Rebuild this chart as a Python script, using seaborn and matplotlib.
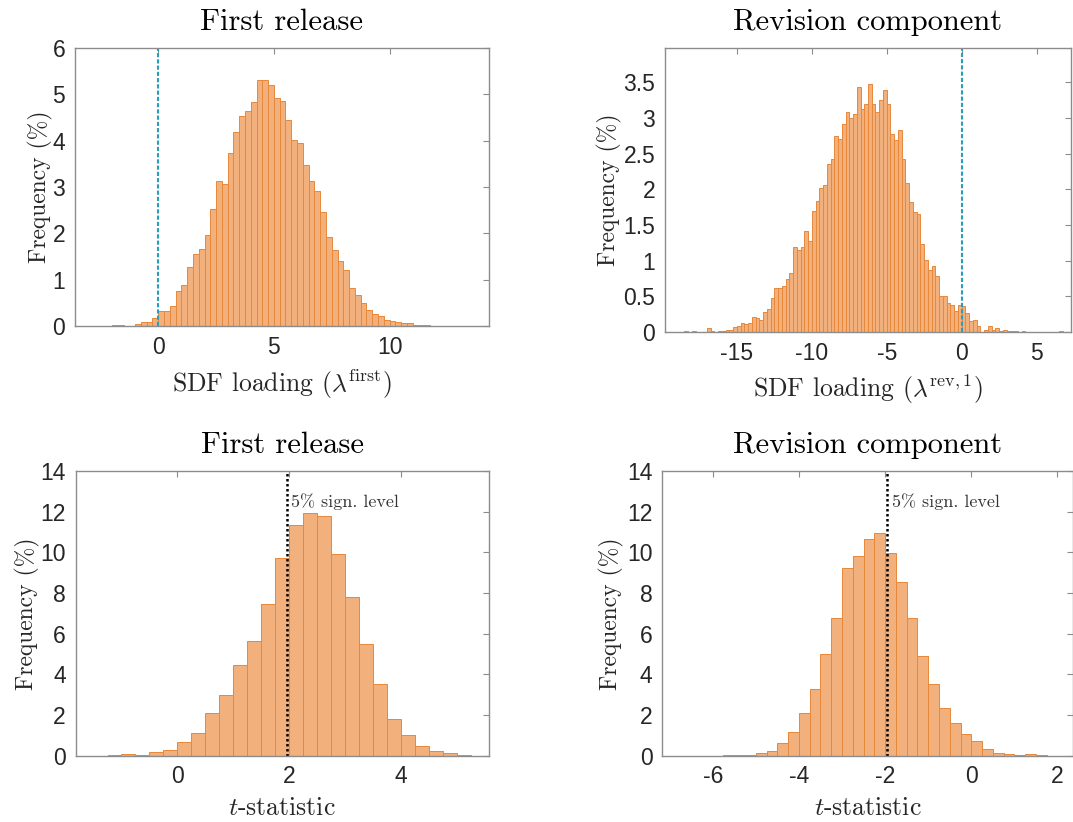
import numpy as np
import pandas as pd
import matplotlib
matplotlib.use("Agg")
import matplotlib.pyplot as plt
import seaborn as sns

# ---------------- data (bin width 0.25) ----------------
BIN_W = 0.25

# Panel 1: first release, SDF loading
tl_start = -2.5
tl_heights = [0.01, 0.0, 0.02, 0.02, 0.005, 0.005, 0.04, 0.09, 0.09, 0.17,
              0.32, 0.32, 0.43, 0.75, 0.89, 1.28, 1.55, 1.66, 1.97, 2.52,
              3.12, 3.07, 3.73, 4.18, 4.54, 4.65, 4.83, 5.31, 5.30, 5.21,
              4.93, 4.86, 4.45, 4.02, 3.95, 3.47, 3.13, 2.92, 2.46, 1.93,
              1.64, 1.40, 1.20, 0.81, 0.66, 0.50, 0.35, 0.26, 0.22, 0.13,
              0.11, 0.08, 0.07, 0.06, 0.02, 0.02, 0.015, 0.01, 0.005, 0.0,
              0.005, 0.0, 0.005, 0.0]

# Panel 2: revision component, SDF loading
tr_start = -18.5
tr_heights = [0.01, 0.0, 0.01, 0.0, 0.0, 0.0,
              0.056, 0.02, 0.0, 0.02, 0.02, 0.03, 0.03, 0.065, 0.09, 0.12,
              0.11, 0.12, 0.21, 0.20, 0.17, 0.28, 0.32, 0.47, 0.61, 0.61,
              0.65, 0.74, 0.82, 1.19, 1.15, 1.19, 1.41, 1.28, 1.69, 1.84,
              2.02, 2.06, 2.36, 2.43, 2.74, 2.70, 2.91, 3.09, 3.00, 3.06,
              3.43, 3.13, 3.19, 3.48, 3.20, 3.08, 3.25, 3.39, 3.20, 2.77,
              2.69, 2.83, 2.42, 2.09, 1.82, 1.68, 1.65, 1.23, 1.01, 0.87,
              0.92, 0.79, 0.50, 0.50, 0.41, 0.38, 0.29, 0.38, 0.37, 0.27,
              0.15, 0.17, 0.09, 0.0, 0.03, 0.09, 0.03, 0.06, 0.02, 0.03,
              0.015, 0.015, 0.02, 0.0, 0.02, 0.005, 0.005, 0.0, 0.005, 0.005,
              0.0, 0.005, 0.005, 0.0, 0.01]

# Panel 3: first release, t-statistic
bl_start = -1.25
bl_heights = [0.02, 0.07, 0.03, 0.16, 0.28, 0.67, 1.10, 2.11, 3.00, 4.46,
              5.64, 7.46, 9.74, 11.34, 11.95, 11.79, 9.90, 7.82, 5.49, 3.51,
              1.80, 1.02, 0.48, 0.23, 0.11, 0.03]

# Panel 4: revision component, t-statistic
br_start = -6.5
br_heights = [0.005, 0.005, 0.005, 0.01, 0.02, 0.04, 0.12, 0.21, 0.61, 1.16,
              2.10, 3.28, 4.98, 6.77, 9.25, 9.80, 10.66, 10.93, 9.95, 8.56,
              6.77, 4.92, 3.51, 2.33, 1.62, 1.07, 0.72, 0.33, 0.11, 0.10,
              0.01, 0.07, 0.02]

titles = ["First release", "Revision component", "First release", "Revision component"]
xlabels = [r"SDF loading ($\lambda^{\mathrm{first}}$)",
           r"SDF loading ($\lambda^{\mathrm{rev},1}$)",
           r"$t$-statistic", r"$t$-statistic"]
ylabel = "Frequency (%)"
xticks = [[0, 5, 10], [-15, -10, -5, 0, 5], [0, 2, 4], [-6, -4, -2, 0, 2]]
yticks = [[0, 1, 2, 3, 4, 5, 6],
          [0, 0.5, 1, 1.5, 2, 2.5, 3, 3.5],
          [0, 2, 4, 6, 8, 10, 12, 14],
          [0, 2, 4, 6, 8, 10, 12, 14]]
ytick_labels = [["0", "1", "2", "3", "4", "5", "6"],
                ["0", "0.5", "1", "1.5", "2", "2.5", "3", "3.5"],
                ["0", "2", "4", "6", "8", "10", "12", "14"],
                ["0", "2", "4", "6", "8", "10", "12", "14"]]
xlims = [(-3.6, 14.3), (-19.8, 7.3), (-1.82, 5.58), (-7.17, 2.36)]
ylims = [(0, 6), (0, 3.98), (0, 14), (0, 14)]
ref_lines = [0.0, 0.0, 1.96, -1.96]
sig_text = "5% sign. level"

# ---------------- style ----------------
sns.set_style("white")
plt.rcParams["axes.unicode_minus"] = False
plt.rcParams["mathtext.fontset"] = "cm"
plt.rcParams["font.family"] = ["Liberation Sans", "DejaVu Sans"]

FACE = "#F2B07C"
EDGE = "#E8883A"
SPINE = "#8C8C8C"
TXT = "#262626"
SERIF = ["cmr10", "DejaVu Serif"]

fig = plt.figure(figsize=(10.73, 8.22), dpi=100)
W, H = 1073.0, 822.0
boxes = [(75, 489, 48, 326), (665, 1071, 48, 332),
         (75.7, 489, 471, 755.7), (662.3, 1073, 471, 755.7)]
ylabel_pads = [0, 1, 0, 2]

panels = [(tl_start, tl_heights), (tr_start, tr_heights),
          (bl_start, bl_heights), (br_start, br_heights)]

for i, ((start, heights), (x0, x1, y0, y1)) in enumerate(zip(panels, boxes)):
    ax = fig.add_axes([x0 / W, 1 - y1 / H, (x1 - x0) / W, (y1 - y0) / H])
    n = len(heights)
    centers = start + BIN_W * (np.arange(n) + 0.5)
    df = pd.DataFrame({"x": centers, "w": heights})
    sns.histplot(data=df, x="x", weights="w", binwidth=BIN_W,
                 binrange=(start, start + n * BIN_W), ax=ax,
                 color=FACE, edgecolor=EDGE, alpha=1.0, linewidth=0.7)
    ax.set_xlim(*xlims[i])
    ax.set_ylim(*ylims[i])
    ax.set_xticks(xticks[i])
    ax.set_xticklabels([str(t) for t in xticks[i]])
    ax.set_yticks(yticks[i])
    ax.set_yticklabels(ytick_labels[i])
    ax.tick_params(direction="in", length=4, width=0.8, color=SPINE,
                   labelsize=16.5, labelcolor=TXT, top=True, right=True,
                   pad=7)
    for s in ax.spines.values():
        s.set_color(SPINE)
        s.set_linewidth(1.0)
        s.set_visible(True)
    if i < 2:
        ax.axvline(ref_lines[i], color="#2A9DBA", lw=1.5, ls=(0, (2, 1)))
    else:
        ax.axvline(ref_lines[i], color="black", lw=1.8, ls=(0, (1, 1)))
        ax.text(ref_lines[i] + (0.08 if i == 2 else 0.13), 12.5, sig_text,
                fontfamily=SERIF, fontsize=13, color="#333333",
                va="center", ha="left")
    ax.set_title(titles[i], fontfamily=SERIF, fontsize=22, color="black", pad=13)
    ax.set_xlabel(xlabels[i], fontfamily=SERIF, fontsize=18.5, color=TXT, labelpad=6)
    ax.set_ylabel(ylabel, fontfamily=SERIF, fontsize=17, color=TXT,
                  labelpad=ylabel_pads[i])

fig.savefig("out.png", dpi=100)
